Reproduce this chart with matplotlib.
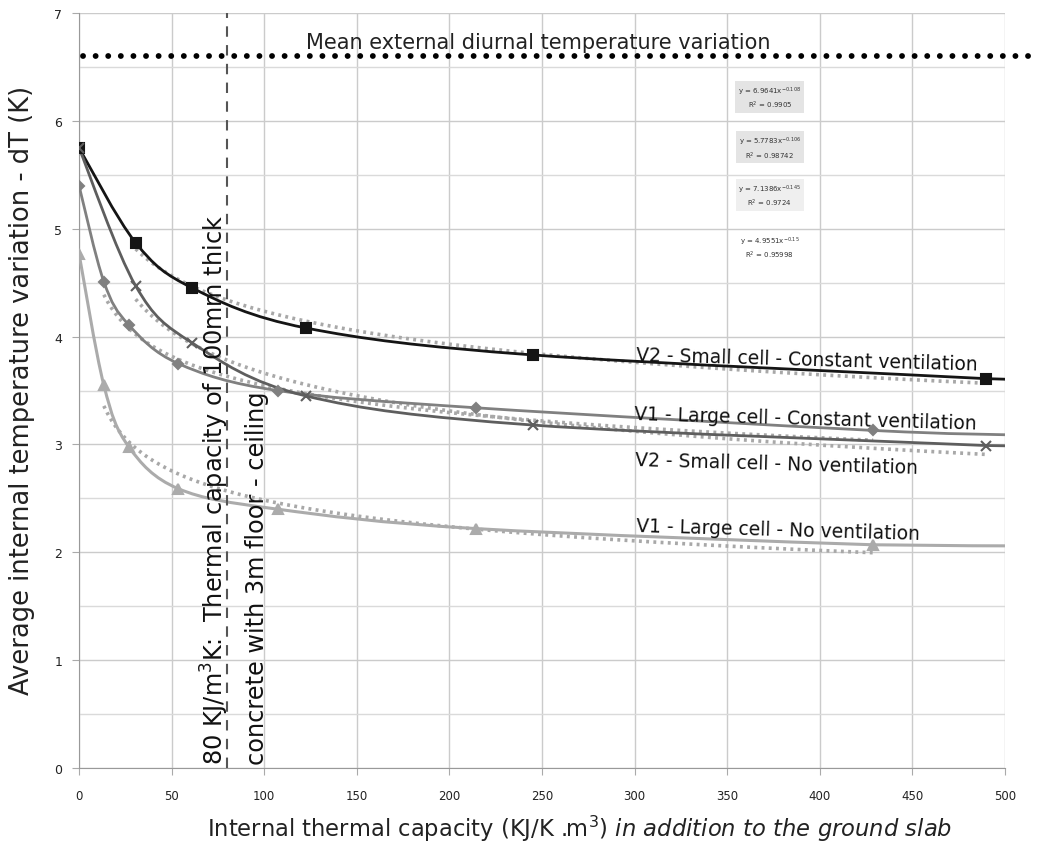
import numpy as np
from matplotlib import pyplot as plt
from matplotlib.path import Path
from matplotlib.patches import PathPatch

plt.rcParams['font.family'] = ['DejaVu Sans']
plt.rcParams['mathtext.fontset'] = 'custom'
plt.rcParams['mathtext.rm'] = 'DejaVu Sans'
plt.rcParams['mathtext.it'] = 'DejaVu Sans:italic'

# data (x in KJ/K.m3, y = dT in K)
x_v2 = [0, 30.6, 61.25, 122.5, 245, 490, 500]
x_v1 = [0, 13.4, 26.8, 53.6, 107.2, 214.4, 428.8, 500]

v2_const = [5.75, 4.87, 4.45, 4.08, 3.83, 3.61, 3.59]
v1_const = [5.40, 4.51, 4.11, 3.75, 3.50, 3.34, 3.13, 3.09]
v2_novent = [5.75, 4.47, 3.94, 3.45, 3.18, 2.99, 2.98]
v1_novent = [4.77, 3.55, 2.98, 2.59, 2.40, 2.22, 2.07, 2.06]

# power trendlines: (a, b, r2)
fit_v2_const = (6.9641, -0.108, '0.9905')
fit_v1_const = (5.7783, -0.106, '0.98742')
fit_v2_novent = (7.1386, -0.145, '0.9724')
fit_v1_novent = (4.9551, -0.15, '0.95998')

mean_external = 6.6
slab_line = 80

labels = ['V2 - Small cell - Constant ventilation',
          'V1 - Large cell - Constant ventilation',
          'V2 - Small cell - No ventilation',
          'V1 - Large cell - No ventilation']


def smooth_path(xs, ys):
    # Excel-like smoothed line: Catmull-Rom converted to cubic beziers
    p = np.column_stack([xs, ys]).astype(float)
    n = len(p)
    verts = [p[0]]
    codes = [Path.MOVETO]
    for i in range(n - 1):
        p0 = p[i - 1] if i > 0 else p[i]
        p3 = p[i + 2] if i + 2 < n else p[i + 1]
        c1 = p[i] + (p[i + 1] - p0) / 6
        c2 = p[i + 1] - (p3 - p[i]) / 6
        if i == n - 2:
            c1[1] = max(c1[1], p[i + 1][1])
        verts += [c1, c2, p[i + 1]]
        codes += [Path.CURVE4] * 3
    return Path(verts, codes)


fig = plt.figure(figsize=(10.41, 8.45), dpi=100)
ax = fig.add_axes([0.0759, 0.0899, 0.8895, 0.8935])
ax.set_xlim(0, 500)
ax.set_ylim(0, 7)
ax.set_xticks(np.arange(0, 501, 50))
ax.set_yticks(np.arange(0, 8, 1))
ax.set_yticks(np.arange(0.5, 7, 1), minor=True)
ax.grid(True, which='major', color='#cbcbcb', lw=1)
ax.grid(True, which='minor', axis='y', color='#dadada', lw=1)
ax.set_axisbelow(True)
for s in ['top', 'right']:
    ax.spines[s].set_visible(False)
ax.spines['left'].set_color('#999999')
ax.spines['bottom'].set_color('#999999')
ax.tick_params(axis='x', length=5, color='#aaaaaa', labelsize=8.5, labelcolor='#222222', pad=10)
ax.tick_params(axis='y', which='major', length=5, color='#aaaaaa', labelsize=9,
               labelcolor='#222222', pad=7)
ax.tick_params(axis='y', which='minor', length=0)

series = [
    (x_v2, v2_const, fit_v2_const, '#151515', 's', 7, 2.0),
    (x_v1, v1_const, fit_v1_const, '#808080', 'D', 5, 2.0),
    (x_v2, v2_novent, fit_v2_novent, '#5e5e5e', 'x', 7, 2.0),
    (x_v1, v1_novent, fit_v1_novent, '#ababab', '^', 7, 2.2),
]

for xs, ys, fit, col, mk, ms, lw in series:
    a, b, r2 = fit
    xf = np.linspace(xs[1], xs[-2], 200)
    ax.plot(xf, a * xf ** b, color='#a8a8a8', lw=2.6, ls=(0, (0.8, 1.2)), zorder=2)
    ax.add_patch(PathPatch(smooth_path(xs, ys), fill=False, edgecolor=col, lw=lw, zorder=3))
    ax.plot(xs[:-1], ys[:-1], ls='none', marker=mk, ms=ms, color=col, mec=col, mew=1.5, zorder=4)

# mean external diurnal variation
ax.plot([2, 516], [mean_external, mean_external], color='black', lw=4.2,
        ls=(0, (0.01, 2.15)), dash_capstyle='round', clip_on=False, zorder=5)
ax.text(248, 6.68, 'Mean external diurnal temperature variation', ha='center', va='baseline',
        fontsize=15, color='#222222')

# 80 KJ/m3K reference
ax.axvline(slab_line, color='#555555', lw=1.5, ls=(0, (5, 4)), zorder=3)
ax.text(83.5, 0.04, '80 KJ/m$^3$K:  Thermal capacity of 100mm thick\nconcrete with 3m floor - ceiling',
        rotation=90, ha='center', va='bottom', multialignment='left', fontsize=17.3,
        color='#111111', linespacing=1.72)

# series labels
label_pos = [(301, 3.78), (300, 3.24), (300, 2.81), (301, 2.20)]
for lab, (lx, ly) in zip(labels, label_pos):
    ax.text(lx, ly, lab, fontsize=13.5, ha='left', va='baseline', rotation=-1.6,
            rotation_mode='anchor', color='#111111')

# trendline equation boxes
eq_pos = [(373, 6.22, '#e4e4e4'), (373, 5.75, '#e4e4e4'), (373, 5.31, '#efefef'), (373, 4.83, 'none')]
for (xs, ys, fit, col, mk, ms, lw), (ex, ey, bg) in zip(series, eq_pos):
    a, b, r2 = fit
    txt = 'y = %sx$^{%s}$\nR$^2$ = %s' % (a, b, r2)
    ax.text(ex, ey, txt, fontsize=5, ha='center', va='center', color='#333333',
            bbox=dict(boxstyle='square,pad=0.4', fc=bg, ec='none'))

fig.text(0.021, 0.538, 'Average internal temperature variation - dT (K)', fontsize=18.5,
         color='#222222', rotation=90, ha='center', va='center')
fig.text(0.557, 0.019, 'Internal thermal capacity (KJ/K .m$^3$) $\\it{in\\ addition\\ to\\ the\\ ground\\ slab}$',
         fontsize=16.3, color='#222222', ha='center', va='center')

fig.savefig('out.png', dpi=100)
